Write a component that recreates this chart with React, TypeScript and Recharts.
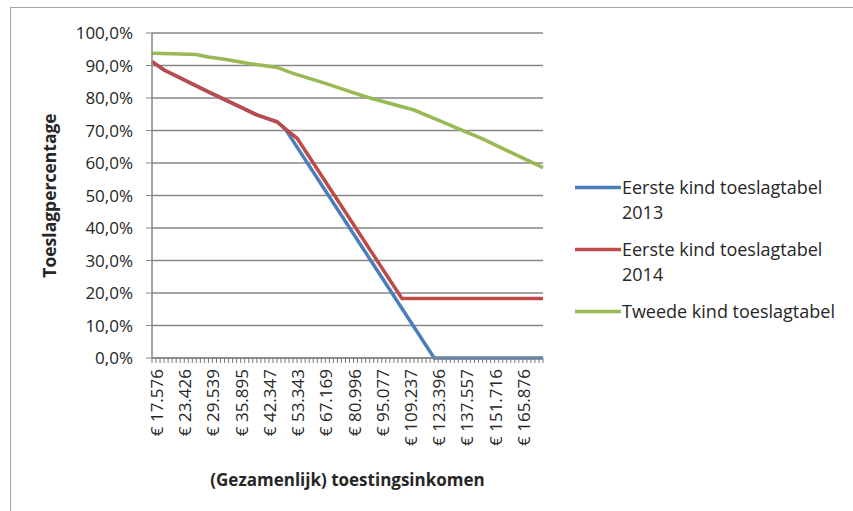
import React from 'react';
import { LineChart, Line, XAxis, YAxis, CartesianGrid, Legend, Label } from 'recharts';

// toeslagtabel rows (category index) and the income printed under every 7th row
const incomeLabels = [
  '€ 17.576', '€ 23.426', '€ 29.539', '€ 35.895', '€ 42.347', '€ 53.343', '€ 67.169',
  '€ 80.996', '€ 95.077', '€ 109.237', '€ 123.396', '€ 137.557', '€ 151.716', '€ 165.876',
];
const rowCount = 98;
const labelEvery = 7;

// Eerste kind 2013
const rows2013 = [0, 3, 14, 26, 31, 33, 70, 97];
const values2013 = [91.2, 88.6, 81.9, 74.8, 72.7, 70.6, 0, 0];

// Eerste kind 2014
const rows2014 = [0, 3, 14, 26, 31, 33, 36, 62, 97];
const values2014 = [91.2, 88.6, 81.9, 74.8, 72.7, 70.6, 67.6, 18.3, 18.3];

// Tweede kind
const rowsSecond = [0, 5, 11, 14, 18, 24, 28, 31, 35, 43, 53, 65, 71, 82, 97];
const valuesSecond = [93.8, 93.6, 93.4, 92.6, 91.9, 90.6, 89.9, 89.4, 87.6, 84.5, 80.4, 76.3, 73.2, 67.4, 58.6];

const yTicks = [0, 10, 20, 30, 40, 50, 60, 70, 80, 90, 100];

const toPoints = (rows: number[], values: number[]) =>
  rows.map((row, i) => ({ row, pct: values[i] }));

const series = [
  { name: 'Eerste kind toeslagtabel 2013', color: '#4a7ebb', data: toPoints(rows2013, values2013) },
  { name: 'Eerste kind toeslagtabel 2014', color: '#be4b48', data: toPoints(rows2014, values2014) },
  { name: 'Tweede kind toeslagtabel', color: '#98b954', data: toPoints(rowsSecond, valuesSecond) },
];

const font = '"Open Sans", sans-serif';
const textColor = '#262626';
const axisGrey = '#878787';

const formatPct = (v: number) => v.toFixed(1).replace('.', ',') + '%';

const IncomeTick = (props: any) => {
  const { x, y, payload } = props;
  const row = payload.value;
  if (row % labelEvery !== 0) return null;
  const text = incomeLabels[row / labelEvery];
  if (!text) return null;
  return (
    <text
      x={x}
      y={y}
      transform={`rotate(-90, ${x}, ${y})`}
      textAnchor="end"
      dy="0.65em"
      fontSize={17}
      fontFamily={font}
      fill={textColor}
    >
      {text}
    </text>
  );
};

const renderLegend = (props: any) => {
  const { payload } = props;
  return (
    <div style={{ fontFamily: font }}>
      {payload.map((entry: any) => (
        <div key={entry.value} style={{ display: 'flex', alignItems: 'flex-start', marginBottom: 12 }}>
          <svg width={47} height={25} style={{ flex: 'none' }}>
            <line x1={0} x2={46} y1={12.5} y2={12.5} stroke={entry.color} strokeWidth={3.5} />
          </svg>
          <span style={{ width: 222, fontSize: 18, lineHeight: '25px', color: textColor }}>{entry.value}</span>
        </div>
      ))}
    </div>
  );
};

const App: React.FC = () => {
  const rowTicks = Array.from({ length: rowCount }, (_, i) => i);
  return (
    <div style={{ position: 'absolute', left: 0, top: 0, width: 853, height: 511, background: '#fff' }}>
      <div
        style={{
          position: 'absolute',
          left: 10,
          top: 7,
          right: 0,
          bottom: 0,
          borderTop: '1.5px solid #a6a6a6',
          borderLeft: '1.5px solid #a6a6a6',
        }}
      />
      <LineChart width={853} height={511} margin={{ top: 33, right: 310, bottom: 23, left: 10 }}>
        <CartesianGrid vertical={false} stroke={axisGrey} strokeWidth={1.5} />
        <XAxis
          dataKey="row"
          type="number"
          domain={[0, rowCount - 1]}
          ticks={rowTicks}
          interval={0}
          height={130}
          tickSize={5}
          tickMargin={6}
          tick={<IncomeTick />}
          axisLine={{ stroke: axisGrey, strokeWidth: 1.5 }}
          tickLine={{ stroke: '#7a7a7a' }}
        >
          <Label
            content={(p: any) => {
              const vb = p.viewBox;
              return (
                <text
                  x={vb.x + vb.width / 2}
                  y={vb.y + 123}
                  textAnchor="middle"
                  dominantBaseline="middle"
                  fontSize={17}
                  fontWeight="bold"
                  fontFamily={font}
                  fill={textColor}
                >
                  (Gezamenlijk) toestingsinkomen
                </text>
              );
            }}
          />
        </XAxis>
        <YAxis
          type="number"
          domain={[0, 100]}
          ticks={yTicks}
          width={142}
          tickSize={6}
          tickMargin={13}
          tickFormatter={formatPct}
          tick={{ fontSize: 17, fontFamily: font, fill: textColor }}
          axisLine={{ stroke: axisGrey, strokeWidth: 1.5 }}
          tickLine={{ stroke: axisGrey }}
        >
          <Label
            content={(p: any) => {
              const vb = p.viewBox;
              const cx = vb.x + 41;
              const cy = vb.y + vb.height / 2;
              return (
                <text
                  x={cx}
                  y={cy}
                  transform={`rotate(-90, ${cx}, ${cy})`}
                  textAnchor="middle"
                  dominantBaseline="middle"
                  fontSize={17.5}
                  fontWeight="bold"
                  fontFamily={font}
                  fill={textColor}
                >
                  Toeslagpercentage
                </text>
              );
            }}
          />
        </YAxis>
        <Legend
          layout="horizontal"
          verticalAlign="middle"
          align="center"
          wrapperStyle={{ left: 575, top: 175, width: 275 }}
          content={renderLegend}
        />
        {series.map((s) => (
          <Line
            key={s.name}
            data={s.data}
            dataKey="pct"
            name={s.name}
            type="linear"
            stroke={s.color}
            strokeWidth={3.5}
            dot={false}
            isAnimationActive={false}
          />
        ))}
      </LineChart>
    </div>
  );
};

export default App;
